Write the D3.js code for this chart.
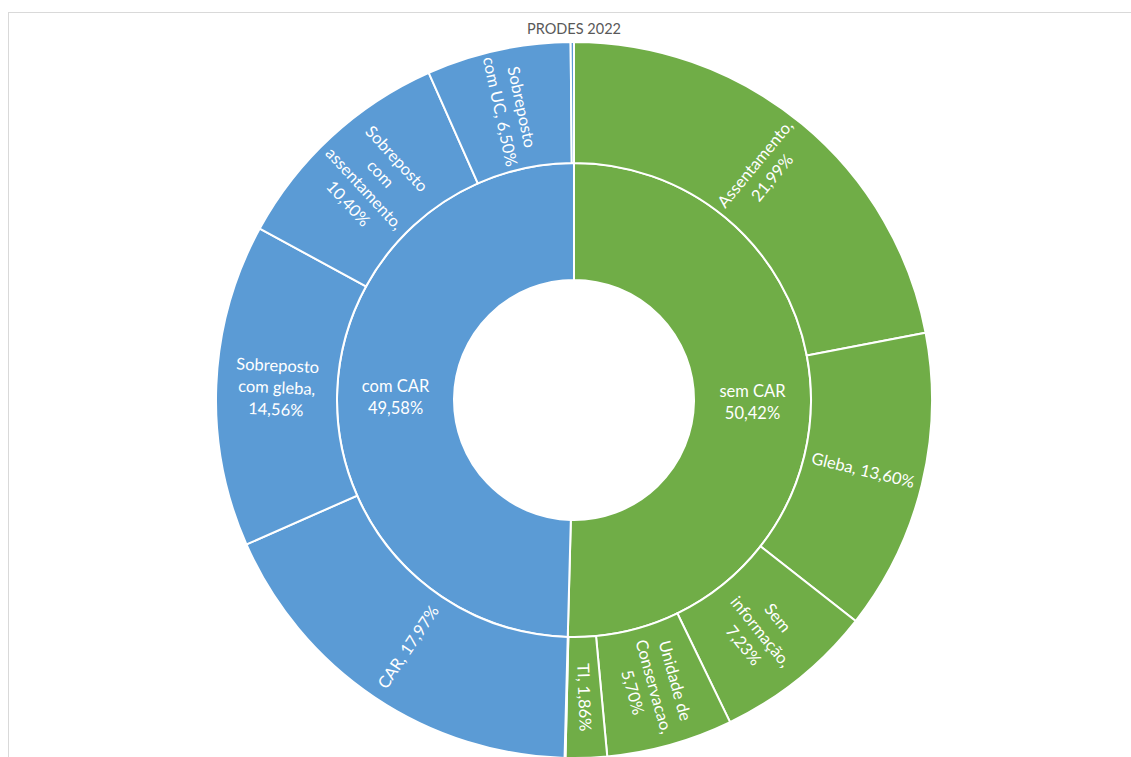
<!DOCTYPE html>
<html>
<head>
<meta charset="utf-8">
<script src="https://cdn.jsdelivr.net/npm/d3@7"></script>
<style>
  html, body { margin: 0; padding: 0; background: #fff; overflow: hidden; }
  svg { display: block; font-family: Lato, "Open Sans", sans-serif; }
</style>
</head>
<body>
<div id="chart"></div>
<script>
// ── Data ────────────────────────────────────────────────────────────────
const title = 'PRODES 2022';

// inner ring
const groups = ['sem CAR', 'com CAR'];

// outer ring, per group ('|' = line break in label, '' = no label)
const semNames  = ['Assentamento', 'Gleba', 'Sem|informação', 'Unidade de|Conservacao', 'TI', ''];
const semValues = [21.99, 13.60, 7.23, 5.70, 1.86, 0.04];
const semInline = [false, true, false, false, true, false];

const comNames  = ['CAR', 'Sobreposto|com gleba', 'Sobreposto|com|assentamento', 'Sobreposto|com UC', ''];
const comValues = [17.97, 14.56, 10.40, 6.50, 0.15];
const comInline = [true, false, false, true, false];

const groupColors = ['#70AD47', '#5B9BD5'];

// ── Layout ──────────────────────────────────────────────────────────────
const W = 1131, H = 757;
const cx = 574, cy = 400;
const lineH = 22;

const fmt = v => d3.format('.2f')(v).replace('.', ',') + '%';

function kids(names, values, inline) {
  return names.map((n, i) => ({ name: n, value: values[i], inline: inline[i] }));
}

const tree = {
  name: 'root',
  children: [
    { name: groups[0], children: kids(semNames, semValues, semInline) },
    { name: groups[1], children: kids(comNames, comValues, comInline) },
  ],
};

const root = d3.hierarchy(tree).sum(d => d.children ? 0 : d.value);
d3.partition().size([2 * Math.PI, 3])(root);

const r = d3.scaleLinear().domain([1, 2, 3]).range([120, 237, 358]);

const arc = d3.arc()
  .startAngle(d => d.x0)
  .endAngle(d => d.x1)
  .innerRadius(d => r(d.y0))
  .outerRadius(d => r(d.y1));

const svg = d3.select('#chart').append('svg')
  .attr('width', W)
  .attr('height', H)
  .attr('viewBox', `0 0 ${W} ${H}`);

// chart frame
svg.append('rect')
  .attr('x', 8.5).attr('y', 12.5)
  .attr('width', W + 20).attr('height', H + 20)
  .attr('fill', '#fff')
  .attr('stroke', '#d9d9d9')
  .attr('stroke-width', 1);

svg.append('text')
  .attr('x', cx)
  .attr('y', 34)
  .attr('text-anchor', 'middle')
  .attr('fill', '#595959')
  .attr('font-size', 14.5)
  .text(title);

const g = svg.append('g').attr('transform', `translate(${cx},${cy})`);

const nodes = root.descendants().filter(d => d.depth > 0);
const colorOf = d => groupColors[groups.indexOf(d.depth === 1 ? d.data.name : d.parent.data.name)];

g.selectAll('path')
  .data(nodes)
  .join('path')
  .attr('d', arc)
  .attr('fill', colorOf)
  .attr('stroke', '#fff')
  .attr('stroke-width', 2);

// ── Labels ──────────────────────────────────────────────────────────────
function labelLines(d) {
  if (d.depth === 1) return [d.data.name, fmt(d.value)];
  if (!d.data.name) return [];
  const lines = d.data.name.split('|');
  const v = fmt(d.value);
  if (d.data.inline) lines[lines.length - 1] += ', ' + v;
  else { lines[lines.length - 1] += ','; lines.push(v); }
  return lines;
}

function rotation(d) {
  if (d.depth === 1) return 0;
  const a = (d.x0 + d.x1) / 2 * 180 / Math.PI;
  let rot = a - 90;
  if (rot > 90) rot -= 180;
  return rot;
}

const labels = g.selectAll('text.lbl')
  .data(nodes.filter(d => labelLines(d).length))
  .join('text')
  .attr('class', 'lbl')
  .attr('text-anchor', 'middle')
  .attr('fill', '#fff')
  .attr('font-size', 16.5)
  .attr('transform', d => {
    const [x, y] = arc.centroid(d);
    return `translate(${x},${y}) rotate(${rotation(d)})`;
  });

labels.each(function (d) {
  const lines = labelLines(d);
  const t = d3.select(this);
  lines.forEach((ln, i) => {
    t.append('tspan')
      .attr('x', 0)
      .attr('y', (i - (lines.length - 1) / 2) * lineH)
      .attr('dy', '0.35em')
      .text(ln);
  });
});
</script>
</body>
</html>
